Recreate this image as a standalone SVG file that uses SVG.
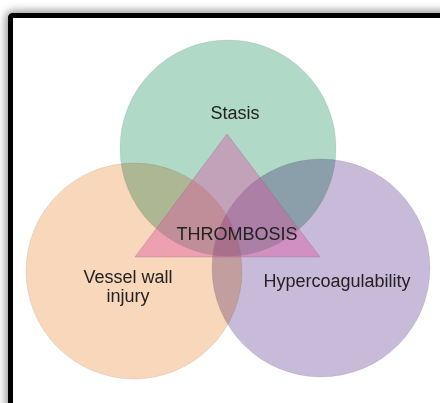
<svg xmlns="http://www.w3.org/2000/svg" width="440" height="403" viewBox="0 0 440 403">
<defs>
<filter id="sh" x="-10%" y="-10%" width="120%" height="120%">
<feGaussianBlur stdDeviation="4"/>
</filter>
</defs>
<style>
.c{mix-blend-mode:multiply;stroke:#000;stroke-opacity:0.08;stroke-width:1}
.t{font-family:"Liberation Sans",Arial,sans-serif;font-size:18px;fill:#222;text-anchor:middle}
</style>
<rect width="440" height="403" fill="#fff"/>
<rect x="10.5" y="15.5" width="500" height="500" rx="3" fill="none" stroke="#000" stroke-opacity="0.45" stroke-width="9" filter="url(#sh)"/>
<rect x="10.5" y="15.5" width="500" height="500" rx="2" fill="#fff" stroke="#000" stroke-width="5"/>
<g id="nodes" style="isolation:isolate">
<g id="stasis"><circle class="c" cx="228" cy="148" r="108" fill="#b1d9c8"/></g>
<g id="vessel"><circle class="c" cx="134" cy="271" r="108" fill="#f9d7bb"/></g>
<g id="hyper"><circle class="c" cx="321" cy="268" r="109" fill="#c8bbd9"/></g>
<g id="thrombosis"><polygon points="227,134 135,257 320,257" fill="#dc50a0" fill-opacity="0.4" stroke="#8a6080" stroke-opacity="0.3" stroke-width="1"/></g>
</g>
<g id="connectors"></g>
<g id="labels">
<text class="t" x="235" y="119">Stasis</text>
<text class="t" x="237" y="240">THROMBOSIS</text>
<text class="t" x="128" y="283">Vessel wall</text>
<text class="t" x="128" y="302">injury</text>
<text class="t" x="337" y="287">Hypercoagulability</text>
</g>
</svg>
